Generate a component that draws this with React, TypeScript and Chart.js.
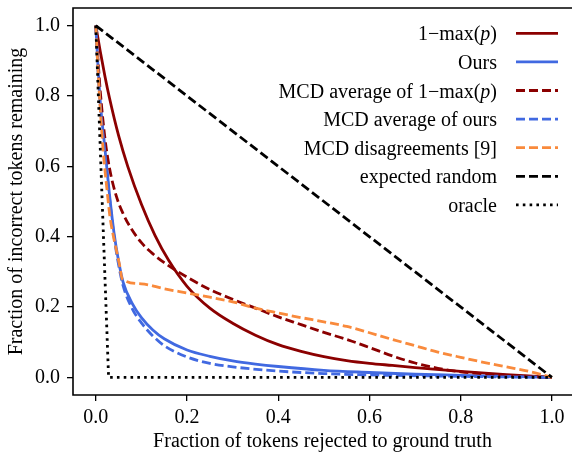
import React, { useEffect, useRef } from 'react';
import { Chart, registerables } from 'chart.js';

Chart.register(...registerables);

const FONT = "'Liberation Serif', 'Times New Roman', serif";

// ---- data ----
const seriesNames = [
  '1−max(p)',
  'Ours',
  'MCD average of 1−max(p)',
  'MCD average of ours',
  'MCD disagreements [9]',
  'expected random',
  'oracle',
];

const xTickValues = [0, 0.2, 0.4, 0.6, 0.8, 1.0];
const yTickValues = [0, 0.2, 0.4, 0.6, 0.8, 1.0];

const maxPX = [0, 0.01, 0.02, 0.03, 0.05, 0.07, 0.1, 0.13, 0.16, 0.2, 0.25, 0.3, 0.35, 0.4, 0.45, 0.5, 0.55, 0.6, 0.65, 0.7, 0.8, 0.9, 1.0];
const maxPY = [1.0, 0.925, 0.856, 0.794, 0.687, 0.6, 0.492, 0.403, 0.332, 0.259, 0.197, 0.154, 0.12, 0.093, 0.074, 0.059, 0.048, 0.04, 0.034, 0.028, 0.017, 0.008, 0.0];

const oursX = [0, 0.005, 0.01, 0.02, 0.03, 0.04, 0.05, 0.06, 0.08, 0.1, 0.125, 0.15, 0.2, 0.25, 0.3, 0.35, 0.4, 0.5, 0.6, 0.7, 0.8, 0.9, 1.0];
const oursY = [1.0, 0.88, 0.78, 0.65, 0.52, 0.41, 0.33, 0.27, 0.21, 0.17, 0.135, 0.11, 0.078, 0.06, 0.047, 0.038, 0.031, 0.02, 0.014, 0.009, 0.006, 0.003, 0.0];

const mcdMaxPX = [0, 0.005, 0.01, 0.02, 0.03, 0.045, 0.06, 0.08, 0.1, 0.12, 0.15, 0.2, 0.25, 0.3, 0.35, 0.4, 0.45, 0.5, 0.55, 0.6, 0.65, 0.7, 0.75, 0.8, 0.9, 1.0];
const mcdMaxPY = [1.0, 0.9, 0.81, 0.68, 0.595, 0.515, 0.465, 0.418, 0.383, 0.357, 0.326, 0.285, 0.25, 0.222, 0.197, 0.172, 0.15, 0.128, 0.108, 0.085, 0.061, 0.041, 0.026, 0.016, 0.006, 0.0];

const mcdOursX = [0, 0.005, 0.01, 0.02, 0.03, 0.04, 0.05, 0.06, 0.08, 0.1, 0.125, 0.15, 0.2, 0.25, 0.3, 0.4, 0.5, 0.6, 0.8, 1.0];
const mcdOursY = [1.0, 0.87, 0.77, 0.64, 0.51, 0.4, 0.32, 0.26, 0.195, 0.155, 0.118, 0.09, 0.058, 0.04, 0.03, 0.018, 0.011, 0.007, 0.003, 0.0];

const mcdDisX = [0, 0.005, 0.01, 0.016, 0.024, 0.031, 0.038, 0.045, 0.052, 0.058, 0.1, 0.15, 0.2, 0.25, 0.3, 0.35, 0.4, 0.45, 0.5, 0.55, 0.6, 0.65, 0.7, 0.75, 0.8, 0.85, 0.9, 0.95, 1.0];
const mcdDisY = [1.0, 0.87, 0.76, 0.646, 0.54, 0.457, 0.405, 0.362, 0.32, 0.28, 0.266, 0.252, 0.24, 0.228, 0.215, 0.197, 0.183, 0.17, 0.158, 0.145, 0.127, 0.108, 0.09, 0.072, 0.057, 0.043, 0.03, 0.017, 0.0];

const randomX = [0, 1.0];
const randomY = [1.0, 0.0];

const oracleX = [0, 0.028, 1.0];
const oracleY = [1.0, 0.0, 0.0];

const DARKRED = '#8b0000';
const BLUE = '#4169e1';
const ORANGE = '#f98a3c';
const BLACK = '#000000';
const DASH = [9, 4];
const DOT = [2.6, 4.2];
const LW = 2.8;

const seriesDefs = [
  { xs: maxPX, ys: maxPY, color: DARKRED, dash: [] as number[], smooth: true },
  { xs: oursX, ys: oursY, color: BLUE, dash: [] as number[], smooth: true },
  { xs: mcdMaxPX, ys: mcdMaxPY, color: DARKRED, dash: DASH, smooth: true },
  { xs: mcdOursX, ys: mcdOursY, color: BLUE, dash: DASH, smooth: true },
  { xs: mcdDisX, ys: mcdDisY, color: ORANGE, dash: DASH, smooth: true },
  { xs: randomX, ys: randomY, color: BLACK, dash: DASH, smooth: false },
  { xs: oracleX, ys: oracleY, color: BLACK, dash: DOT, smooth: false },
];

function drawLabel(ctx: CanvasRenderingContext2D, label: string, right: number, y: number, size: number) {
  // split "(p)" so that p is italic (math style)
  const raw = label.split(/(\(p\))/).filter((s) => s.length > 0);
  const parts: { t: string; it: boolean }[] = [];
  raw.forEach((s) => {
    if (s === '(p)') {
      parts.push({ t: '(', it: false });
      parts.push({ t: 'p', it: true });
      parts.push({ t: ')', it: false });
    } else parts.push({ t: s, it: false });
  });
  const fontFor = (it: boolean) => `${it ? 'italic ' : ''}${size}px ${FONT}`;
  let total = 0;
  const widths = parts.map((p) => {
    ctx.font = fontFor(p.it);
    const w = ctx.measureText(p.t).width;
    total += w;
    return w;
  });
  let x = right - total;
  ctx.textAlign = 'left';
  ctx.textBaseline = 'alphabetic';
  parts.forEach((p, i) => {
    ctx.font = fontFor(p.it);
    ctx.fillText(p.t, x, y);
    x += widths[i];
  });
}

const framePlugin = {
  id: 'frame',
  afterDatasetsDraw(chart: any) {
    const { ctx, chartArea } = chart;
    ctx.save();
    ctx.strokeStyle = '#000';
    ctx.lineWidth = 1.6;
    ctx.setLineDash([]);
    ctx.beginPath();
    ctx.moveTo(chartArea.right + 5, chartArea.top);
    ctx.lineTo(chartArea.left, chartArea.top);
    ctx.lineTo(chartArea.left, chartArea.bottom);
    ctx.lineTo(chartArea.right + 5, chartArea.bottom);
    ctx.stroke();
    ctx.restore();
  },
};

const legendPlugin = {
  id: 'mplLegend',
  afterDraw(chart: any) {
    const { ctx } = chart;
    const textRight = 497;
    const lineX0 = 516;
    const lineX1 = 558;
    const y0 = 33.3;
    const dy = 28.6;
    ctx.save();
    chart.data.datasets.forEach((ds: any, i: number) => {
      const y = y0 + i * dy;
      ctx.beginPath();
      ctx.setLineDash(ds.borderDash || []);
      ctx.lineCap = 'butt';
      ctx.strokeStyle = ds.borderColor;
      ctx.lineWidth = ds.borderWidth;
      ctx.moveTo(lineX0, y);
      ctx.lineTo(lineX1, y);
      ctx.stroke();
      ctx.setLineDash([]);
      ctx.fillStyle = '#000';
      drawLabel(ctx, ds.label, textRight, y + 7, 20);
    });
    ctx.restore();
  },
};

export default function App() {
  const ref = useRef<HTMLCanvasElement>(null);
  useEffect(() => {
    if (!ref.current) return;
    const datasets = seriesDefs.map((s, i) => ({
      label: seriesNames[i],
      data: s.xs.map((x, j) => ({ x, y: s.ys[j] })),
      borderColor: s.color,
      backgroundColor: s.color,
      borderWidth: LW,
      borderDash: s.dash,
      borderCapStyle: 'butt' as const,
      pointRadius: 0,
      fill: false,
      tension: 0,
      cubicInterpolationMode: s.smooth ? ('monotone' as const) : ('default' as const),
      order: seriesDefs.length - i,
    }));
    const chart = new Chart(ref.current, {
      type: 'line',
      data: { datasets },
      plugins: [framePlugin, legendPlugin],
      options: {
        animation: false,
        responsive: false,
        devicePixelRatio: 1,
        layout: { padding: { top: 8, left: 0, right: 0, bottom: 0 } },
        plugins: { legend: { display: false }, tooltip: { enabled: false } },
        scales: {
          x: {
            type: 'linear',
            min: -0.05,
            max: 1.044,
            afterBuildTicks: (scale: any) => {
              scale.ticks = xTickValues.map((v) => ({ value: v }));
            },
            afterFit: (scale: any) => {
              scale.height = 59;
              scale.paddingLeft = 0;
              scale.paddingRight = 0;
            },
            grid: { drawOnChartArea: false, drawTicks: true, tickLength: 6, color: '#000', lineWidth: 1.3 },
            border: { display: false },
            ticks: {
              color: '#000',
              padding: 5,
              maxRotation: 0,
              autoSkip: false,
              font: { family: FONT, size: 20, lineHeight: 1.2 },
              callback: (v: any) => Number(v).toFixed(1),
            },
            title: {
              display: true,
              text: 'Fraction of tokens rejected to ground truth',
              color: '#000',
              font: { family: FONT, size: 20, lineHeight: 1.2 },
              padding: { top: 0, bottom: 0 },
            },
          },
          y: {
            type: 'linear',
            min: -0.05,
            max: 1.05,
            afterBuildTicks: (scale: any) => {
              scale.ticks = yTickValues.map((v) => ({ value: v }));
            },
            afterFit: (scale: any) => {
              scale.width = 73;
              scale.paddingTop = 0;
              scale.paddingBottom = 0;
            },
            grid: { drawOnChartArea: false, drawTicks: true, tickLength: 6, color: '#000', lineWidth: 1.3 },
            border: { display: false },
            ticks: {
              color: '#000',
              padding: 7,
              autoSkip: false,
              font: { family: FONT, size: 20, lineHeight: 1.2 },
              callback: (v: any) => Number(v).toFixed(1),
            },
            title: {
              display: true,
              text: 'Fraction of incorrect tokens remaining',
              color: '#000',
              font: { family: FONT, size: 20, lineHeight: 1.2 },
              padding: { top: 5, bottom: 0 },
            },
          },
        },
      },
    });
    return () => chart.destroy();
  }, []);
  return (
    <div style={{ position: 'fixed', left: 0, top: 0, width: 572, height: 454, background: '#fff' }}>
      <canvas ref={ref} width={572} height={454} style={{ display: 'block', width: 572, height: 454 }} />
    </div>
  );
}
